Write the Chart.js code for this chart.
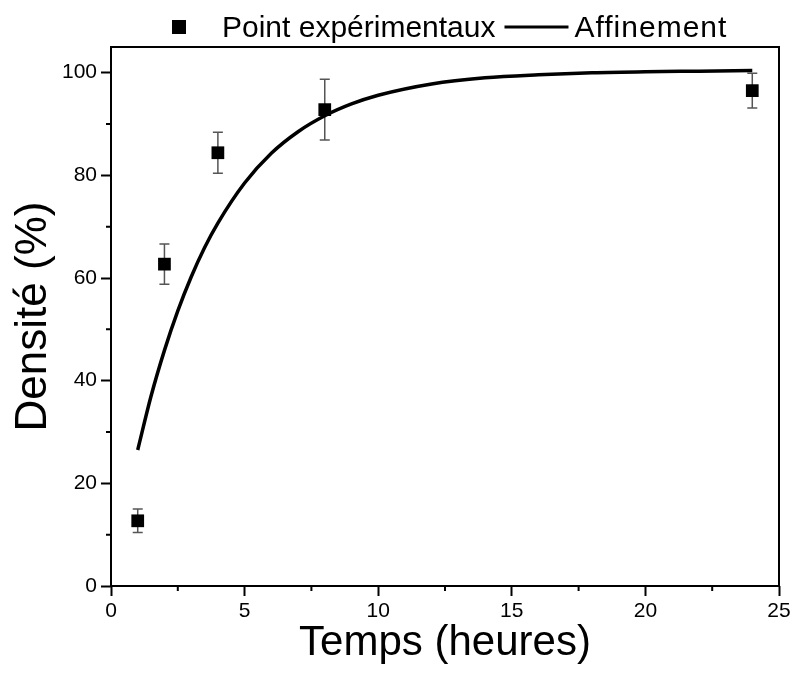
<!DOCTYPE html>
<html lang="fr">
  <head>
    <meta charset="UTF-8" />
    <script src="https://cdn.jsdelivr.net/npm/chart.js"></script>
    <title>Densité</title>
    <style>
      html, body { margin: 0; padding: 0; background: #fff; }
    </style>
  </head>
  <body>
    <canvas id="myChart" width="794" height="682"></canvas>

    <script>
      // experimental points (hours, %, error)
      const times = [1, 2, 4, 8, 24];
      const density = [12.7, 62.7, 84.4, 92.8, 96.5];
      const densityErr = [2.3, 3.9, 4.0, 5.9, 3.4];

      // fitted curve
      const fitTimes = [1, 1.5, 2, 2.5, 3, 3.5, 4, 5, 6, 7, 8, 9, 10, 12, 14, 16, 18, 20, 22, 24];
      const fitDensity = [26.5, 37.0, 45.9, 53.6, 60.2, 65.9, 70.7, 78.5, 84.3, 88.5, 91.6, 93.9, 95.6, 97.8, 99.0, 99.6, 100.0, 100.2, 100.3, 100.4];

      const xMinorTicks = [2.5, 7.5, 12.5, 17.5, 22.5];
      const yMinorTicks = [10, 30, 50, 70, 90];

      const FONT = "'Liberation Sans', Arial, sans-serif";

      const extras = {
        id: "extras",
        beforeDatasetsDraw(chart) {
          // error bars
          const ctx = chart.ctx;
          const xs = chart.scales.x;
          const ys = chart.scales.y;
          ctx.save();
          ctx.strokeStyle = "#555";
          ctx.lineWidth = 1.5;
          times.forEach((t, i) => {
            const px = xs.getPixelForValue(t);
            const top = ys.getPixelForValue(density[i] + densityErr[i]);
            const bot = ys.getPixelForValue(density[i] - densityErr[i]);
            ctx.beginPath();
            ctx.moveTo(px, top);
            ctx.lineTo(px, bot);
            ctx.moveTo(px - 5, top);
            ctx.lineTo(px + 5, top);
            ctx.moveTo(px - 5, bot);
            ctx.lineTo(px + 5, bot);
            ctx.stroke();
          });
          ctx.restore();
        },
        afterDraw(chart) {
          const ctx = chart.ctx;
          const a = chart.chartArea;
          const xs = chart.scales.x;
          const ys = chart.scales.y;
          ctx.save();
          ctx.strokeStyle = "#000";
          ctx.lineWidth = 2;
          // frame
          ctx.strokeRect(a.left, a.top, a.right - a.left, a.bottom - a.top);
          // minor ticks
          ctx.beginPath();
          xMinorTicks.forEach((v) => {
            const px = xs.getPixelForValue(v);
            ctx.moveTo(px, a.bottom);
            ctx.lineTo(px, a.bottom + 5);
          });
          yMinorTicks.forEach((v) => {
            const py = ys.getPixelForValue(v);
            ctx.moveTo(a.left - 5, py);
            ctx.lineTo(a.left, py);
          });
          ctx.stroke();

          // legend
          const ds = chart.data.datasets;
          ctx.font = "30px " + FONT;
          ctx.fillStyle = "#000";
          ctx.textBaseline = "alphabetic";
          let x = 172;
          const y = 27;
          ctx.fillRect(x, y - 7, 14, 14);
          x += 14 + 36;
          ctx.fillText(ds[0].label, x, y + 10);
          x += ctx.measureText(ds[0].label).width + 9;
          ctx.lineWidth = 3;
          ctx.beginPath();
          ctx.moveTo(x, y);
          ctx.lineTo(x + 64, y);
          ctx.stroke();
          x += 64 + 6;
          ctx.letterSpacing = "1px";
          ctx.fillText(ds[1].label, x, y + 10);
          ctx.restore();
        },
      };

      const ctx = document.getElementById("myChart");

      const chart = new Chart(ctx, {
        type: "scatter",
        data: {
          datasets: [
            {
              label: "Point expérimentaux",
              data: times.map((t, i) => ({ x: t, y: density[i] })),
              pointStyle: "rect",
              pointRadius: 9,
              backgroundColor: "#000",
              borderColor: "#000",
              borderWidth: 0,
            },
            {
              label: "Affinement",
              data: fitTimes.map((t, i) => ({ x: t, y: fitDensity[i] })),
              showLine: true,
              pointRadius: 0,
              borderColor: "#000",
              borderWidth: 3.5,
              cubicInterpolationMode: "monotone",
            },
          ],
        },
        options: {
          responsive: false,
          animation: false,
          layout: { padding: { left: 0, right: 15, top: 47, bottom: 0 } },
          plugins: {
            legend: { display: false },
            tooltip: { enabled: false },
          },
          scales: {
            x: {
              type: "linear",
              min: 0,
              max: 25,
              border: { display: false },
              grid: {
                drawOnChartArea: false,
                tickLength: 10,
                tickWidth: 2,
                tickColor: "#000",
              },
              ticks: {
                stepSize: 5,
                color: "#000",
                padding: 3,
                maxRotation: 0,
                font: { family: FONT, size: 21 },
              },
              title: {
                display: true,
                text: "Temps (heures)",
                color: "#000",
                font: { family: FONT, size: 42 },
                padding: { bottom: 13 },
              },
              afterFit(scale) {
                scale.height = 96;
              },
            },
            y: {
              min: 0,
              max: 105,
              border: { display: false },
              grid: {
                drawOnChartArea: false,
                tickLength: 10,
                tickWidth: 2,
                tickColor: "#000",
              },
              ticks: {
                stepSize: 20,
                includeBounds: false,
                color: "#000",
                padding: 4,
                font: { family: FONT, size: 21 },
              },
              title: {
                display: true,
                text: "Densité (%)",
                color: "#000",
                font: { family: FONT, size: 44 },
                padding: { top: 7 },
              },
              afterFit(scale) {
                scale.width = 111;
              },
            },
          },
        },
        plugins: [extras],
      });
    </script>
  </body>
</html>
